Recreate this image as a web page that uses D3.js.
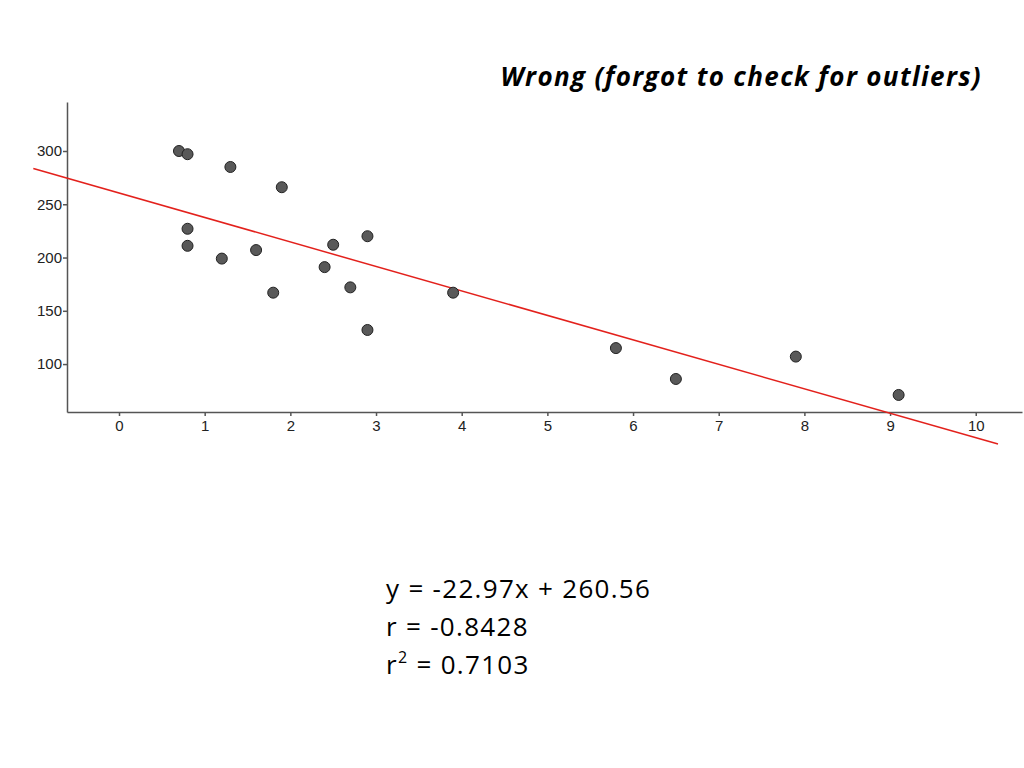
<!DOCTYPE html>
<html>
<head>
<meta charset="utf-8">
<script src="https://cdn.jsdelivr.net/npm/d3@7"></script>
<style>
  body { margin: 0; background: #fff; }
  .axis path, .axis line { stroke: #555; stroke-width: 1.5; }
  .title { font-family: "Open Sans", Lato, sans-serif; font-style: italic; font-weight: bold; font-size: 26px; letter-spacing: 1.35px; fill: #000; }
  .eq { font-family: "Open Sans", Lato, sans-serif; font-size: 26px; letter-spacing: 1.3px; fill: #000; }
</style>
</head>
<body>
<svg width="1024" height="768"></svg>
<script>
// data
const xs = [0.7, 0.8, 1.3, 1.9, 0.8, 0.8, 1.2, 1.6, 1.8, 2.4, 2.5, 2.9, 2.7, 2.9, 3.9, 5.8, 6.5, 7.9, 9.1]
const ys = [300, 297, 285, 266, 227, 211, 199, 207, 167, 191, 212, 220, 172, 132, 167, 115, 86, 107, 71]
const xTicks = [0, 1, 2, 3, 4, 5, 6, 7, 8, 9, 10]
const yTicks = [100, 150, 200, 250, 300]
const slope = -22.97
const intercept = 260.56
const lineX = [-1, 10.26]

const svg = d3.select('svg')

const x = d3.scaleLinear().domain([-0.607, 10.54]).range([67, 1022])
const y = d3.scaleLinear().domain([55, 346]).range([412, 102])

svg.append('g')
  .attr('class', 'axis')
  .attr('transform', 'translate(0, 412)')
  .call(d3.axisBottom(x).tickValues(xTicks).tickSize(4).tickSizeOuter(0).tickPadding(4))

svg.append('g')
  .attr('class', 'axis')
  .attr('transform', 'translate(67, 0)')
  .call(d3.axisLeft(y).tickValues(yTicks).tickSize(4).tickSizeOuter(0).tickPadding(1))

svg.selectAll('.axis')
  .attr('font-size', 15)
  .attr('font-family', '"Liberation Sans", Arial, sans-serif')
svg.selectAll('.axis .tick text').attr('fill', '#222')

// regression line
svg.append('line')
  .attr('x1', x(lineX[0]))
  .attr('y1', y(slope * lineX[0] + intercept))
  .attr('x2', x(lineX[1]))
  .attr('y2', y(slope * lineX[1] + intercept))
  .attr('stroke', '#e3211c')
  .attr('stroke-width', 1.5)

svg.selectAll('.pt')
  .data(xs.map((d, i) => ({x: d, y: ys[i]})))
  .enter()
  .append('circle')
  .attr('class', 'pt')
  .attr('cx', d => x(d.x))
  .attr('cy', d => y(d.y))
  .attr('r', 5.5)
  .attr('fill', '#595959')
  .attr('stroke', '#222')
  .attr('stroke-width', 1)

svg.append('text')
  .attr('class', 'title')
  .attr('x', 982)
  .attr('y', 86)
  .attr('text-anchor', 'end')
  .text('Wrong (forgot to check for outliers)')

const eq = svg.append('text').attr('class', 'eq')
eq.append('tspan').attr('x', 386).attr('y', 598).text('y = -22.97x + 260.56')
eq.append('tspan').attr('x', 386).attr('y', 636).text('r = -0.8428')
const l3 = eq.append('tspan').attr('x', 386).attr('y', 674).text('r')
l3.append('tspan').attr('dy', -11).attr('font-size', 16).text('2')
l3.append('tspan').attr('dy', 11).text(' = 0.7103')
</script>
</body>
</html>
